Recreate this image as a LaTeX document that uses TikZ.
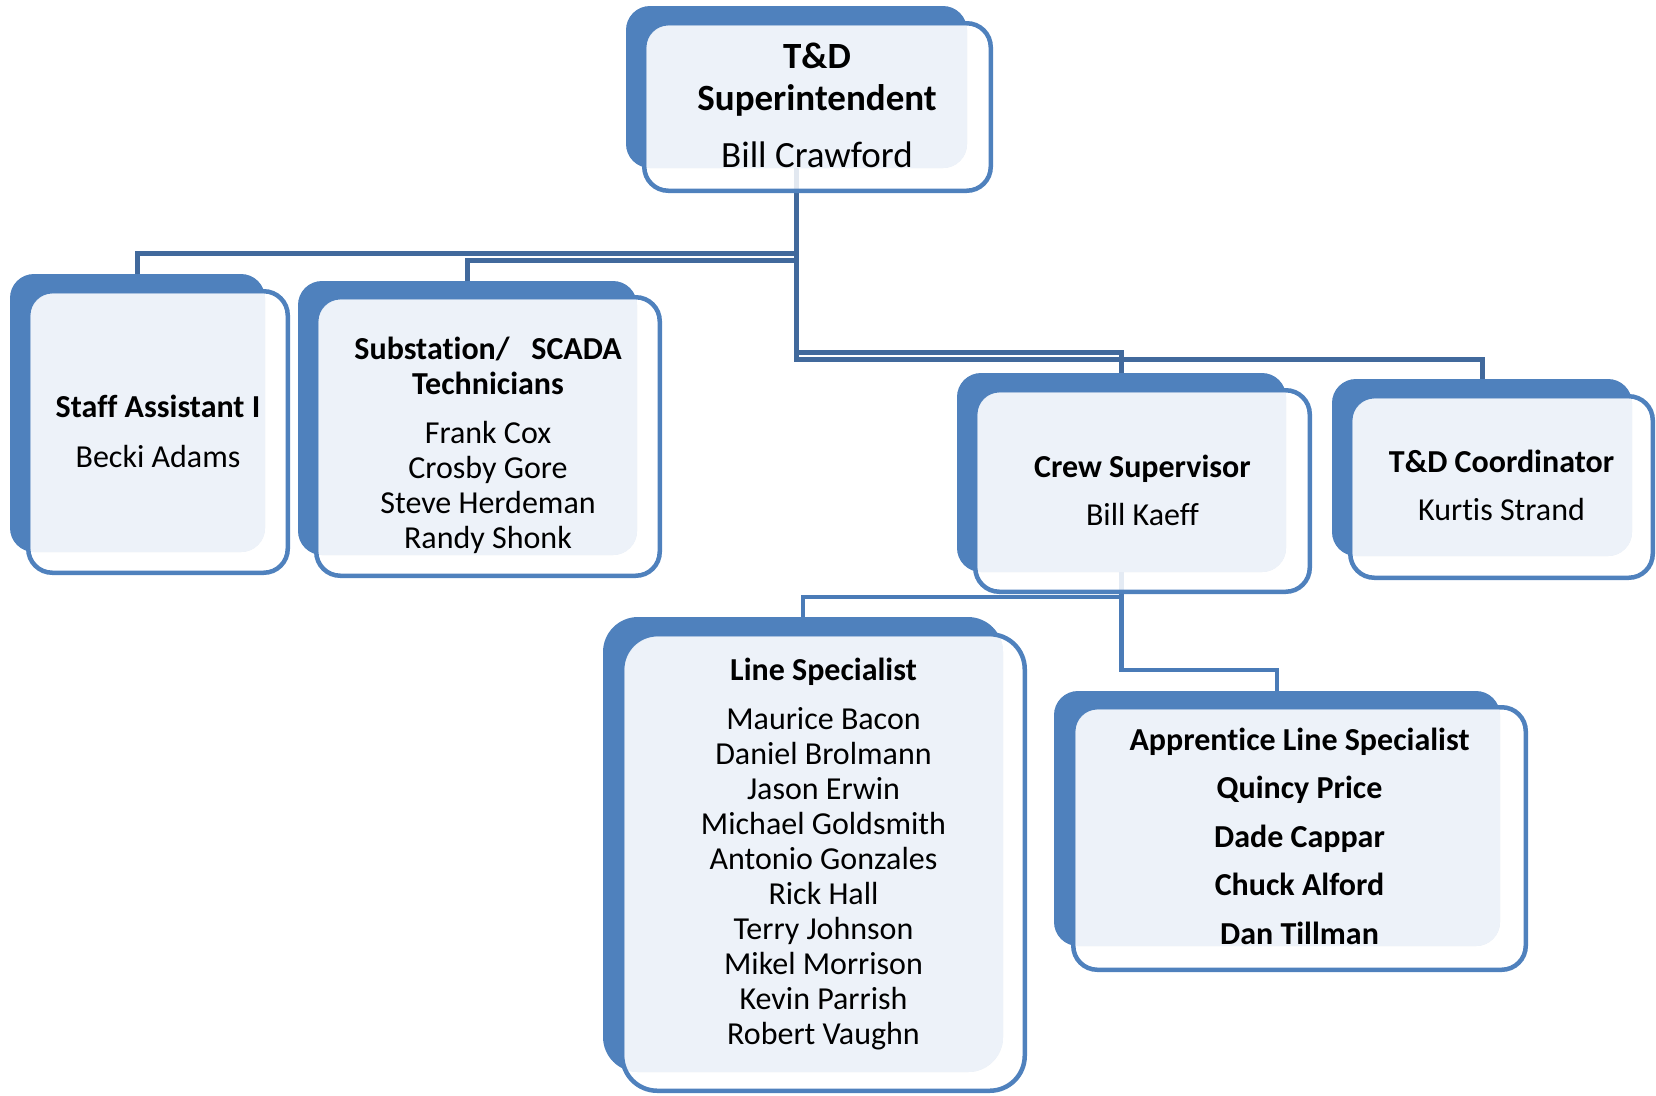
\documentclass[tikz,border=0pt]{standalone}
\usepackage{fontspec}
\setmainfont{Carlito}[Ligatures=NoCommon]
\pgfdeclarelayer{background}
\pgfsetlayers{background,main}

\definecolor{panelblue}{HTML}{4F81BD}
\definecolor{panelfill}{HTML}{EDF2F9}
\definecolor{linkdark}{HTML}{41699C}
\definecolor{linkmid}{HTML}{4A7BB7}

\tikzset{
  backpanel/.style={fill=panelblue, draw=none, inner sep=0pt, outer sep=0pt},
  framepanel/.style={draw=panelblue, line width=4.5pt, fill=white, fill opacity=0.85,
                     inner sep=0pt, outer sep=0pt},
  link/.style={draw=linkdark, line width=5pt},
  sublink/.style={draw=linkmid, line width=4.5pt},
  lbl/.style={inner sep=0pt, outer sep=0pt, anchor=base, text=black},
  bodyfont/.style={font=\fontsize{32}{35}\selectfont},
  headfont/.style={font=\fontsize{37}{42}\selectfont},
}

\setlength{\tabcolsep}{0pt}
\def\boxr{24}

% #1 name; (#2,#3)-(#4,#5) blue back panel; (#6,#7)-(#8,#9) outer edge of the frame
\newcommand\orgbox[9]{%
  \node[backpanel, rounded corners=\boxr pt,
        minimum width={(#4)-(#2)}, minimum height={(#5)-(#3)}]
        (#1) at ({((#2)+(#4))/2},{((#3)+(#5))/2}) {};
  \node[framepanel, rounded corners=\boxr pt,
        minimum width={(#8)-(#6)-4.5}, minimum height={(#9)-(#7)-4.5}]
        (#1-frame) at ({((#6)+(#8))/2},{((#7)+(#9))/2}) {};
  \begin{scope}
    \clip[rounded corners=\boxr pt] (#2,#3) rectangle (#4,#5);
    \fill[panelfill, rounded corners=\boxr pt] ({#6+4.5},{#7+4.5}) rectangle ({#8-4.5},{#9-4.5});
  \end{scope}
}

\begin{document}
\begin{tikzpicture}[x=1pt, y=-1pt]
\useasboundingbox (0,0) rectangle (1656,1095);

% boxes
\orgbox{td}{626}{6}{967}{168}{642}{21}{993}{193}
\orgbox{sa}{10}{274}{265}{552}{26}{289}{290}{575}
\orgbox{sc}{298}{281}{637}{555}{314}{295}{662}{578}
\orgbox{cs}{957}{373}{1286}{572}{973}{388}{1312}{594}
\orgbox{co}{1332}{379}{1632}{556}{1348}{394}{1655}{580}
\def\boxr{35}
\orgbox{ls}{603}{617}{1003}{1072}{620}{632}{1027}{1093}
\def\boxr{24}
\orgbox{ap}{1054}{691}{1500}{946}{1071}{705}{1528}{972}

% labels
\node[lbl, headfont] (td-text) at (817,68)
  {\begin{tabular}[t]{c}\textbf{T\&D}\\ \textbf{Superintendent}\\[15pt] Bill Crawford\end{tabular}};
\node[lbl, bodyfont] (sa-text) at (158,417)
  {\begin{tabular}[t]{c}\textbf{Staff Assistant I}\\[15pt] Becki Adams\end{tabular}};
\node[lbl, bodyfont] (sc-text) at (488,359)
  {\begin{tabular}[t]{c}\textbf{Substation/\ \ \ SCADA}\\ \textbf{Technicians}\\[14pt]
   Frank Cox\\ Crosby Gore\\ Steve Herdeman\\ Randy Shonk\end{tabular}};
\node[lbl, bodyfont] (cs-text) at (1142.5,477)
  {\begin{tabular}[t]{c}\textbf{Crew Supervisor}\\[13pt] Bill Kaeff\end{tabular}};
\node[lbl, bodyfont] (co-text) at (1501.5,472)
  {\begin{tabular}[t]{c}\textbf{T\&D Coordinator}\\[13pt] Kurtis Strand\end{tabular}};
\node[lbl, bodyfont] (ls-text) at (823.5,680)
  {\begin{tabular}[t]{c}\textbf{Line Specialist}\\[14pt]
   Maurice Bacon\\ Daniel Brolmann\\ Jason Erwin\\ Michael Goldsmith\\
   Antonio Gonzales\\ Rick Hall\\ Terry Johnson\\ Mikel Morrison\\
   Kevin Parrish\\ Robert Vaughn\end{tabular}};
\node[lbl, bodyfont] (ap-text) at (1299.5,750)
  {\begin{tabular}[t]{c}\textbf{Apprentice Line Specialist}\\[13.5pt]
   \textbf{Quincy Price}\\[13.5pt] \textbf{Dade Cappar}\\[13.5pt]
   \textbf{Chuck Alford}\\[13.5pt] \textbf{Dan Tillman}\end{tabular}};

% rail heights of the elbow connectors
\coordinate (railSa) at (0,253);
\coordinate (railSc) at (0,260);
\coordinate (railCs) at (0,352);
\coordinate (railCo) at (0,359);
\coordinate (railLs) at (0,597);
\coordinate (railAp) at (0,670);

\begin{pgfonlayer}{background}
  \draw[link] (td.south) |- (sa.north |- railSa) -- (sa.north);
  \draw[link] (td.south) |- (sc.north |- railSc) -- (sc.north);
  \draw[link] (td.south) |- (cs.north |- railCs) -- (cs.north);
  \draw[link] (td.south) |- (co.north |- railCo) -- (co.north);
  \draw[sublink] (cs.south) |- (ls.north |- railLs) -- (ls.north);
  \draw[sublink] (cs.south) |- (ap.north |- railAp) -- (ap.north);
\end{pgfonlayer}
\end{tikzpicture}
\end{document}
